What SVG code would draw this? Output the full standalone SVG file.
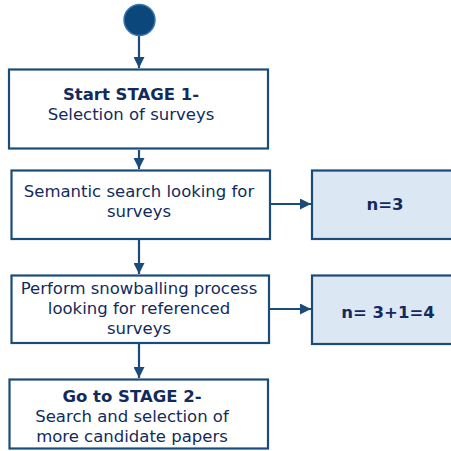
<svg xmlns="http://www.w3.org/2000/svg" width="451" height="451" viewBox="0 0 451 451">
  <style>
    .box { fill: #ffffff; stroke: #1b4c79; stroke-width: 2.2; }
    .res { fill: #dce7f4; stroke: #1b4c79; stroke-width: 2.2; }
    .edge { fill: none; stroke: #1b4c79; stroke-width: 2.2; marker-end: url(#arrow); }
    text { font-family: "DejaVu Sans", Verdana, sans-serif; font-size: 16.5px; fill: #122b5c; text-anchor: middle; }
    .b { font-weight: bold; }
  </style>
  <defs>
    <marker id="arrow" viewBox="0 0 10 10" refX="10" refY="5" markerWidth="5" markerHeight="5" markerUnits="strokeWidth" orient="auto">
      <path d="M0,0 L10,5 L0,10 z" fill="#1b4c79"/>
    </marker>
  </defs>

  <g id="connectors">
    <line class="edge" x1="139" y1="36" x2="139" y2="68"/>
    <line class="edge" x1="139" y1="150" x2="139" y2="169"/>
    <line class="edge" x1="139" y1="240" x2="139" y2="274"/>
    <line class="edge" x1="139" y1="344" x2="139" y2="378"/>
    <line class="edge" x1="271" y1="204" x2="311" y2="204"/>
    <line class="edge" x1="270" y1="309" x2="311" y2="309"/>
  </g>

  <g id="start">
    <circle cx="139.5" cy="20" r="15.5" fill="#0c477c" stroke="#3b76ad" stroke-width="1.5"/>
  </g>

  <g id="stage1">
    <rect class="box" x="9" y="69.5" width="259" height="79"/>
    <text x="131" y="100" class="b">Start STAGE 1-</text>
    <text x="131" y="119.5">Selection of surveys</text>
  </g>

  <g id="semantic">
    <rect class="box" x="11.5" y="170.5" width="258.5" height="68.5"/>
    <text x="139" y="197">Semantic search looking for</text>
    <text x="139" y="217">surveys</text>
  </g>

  <g id="n3">
    <rect class="res" x="312" y="170.5" width="141" height="68.5"/>
    <text x="385" y="210" class="b">n=3</text>
  </g>

  <g id="snowball">
    <rect class="box" x="11.5" y="275.5" width="257.5" height="67.5"/>
    <text x="139" y="294">Perform snowballing process</text>
    <text x="139" y="314">looking for referenced</text>
    <text x="139" y="334">surveys</text>
  </g>

  <g id="n4">
    <rect class="res" x="312" y="275.5" width="141" height="68.5"/>
    <text x="388" y="318" class="b">n= 3+1=4</text>
  </g>

  <g id="stage2">
    <rect class="box" x="9.5" y="379.5" width="258.5" height="69"/>
    <text x="132" y="402" class="b">Go to STAGE 2-</text>
    <text x="132" y="422">Search and selection of</text>
    <text x="132" y="442">more candidate papers</text>
  </g>
</svg>
